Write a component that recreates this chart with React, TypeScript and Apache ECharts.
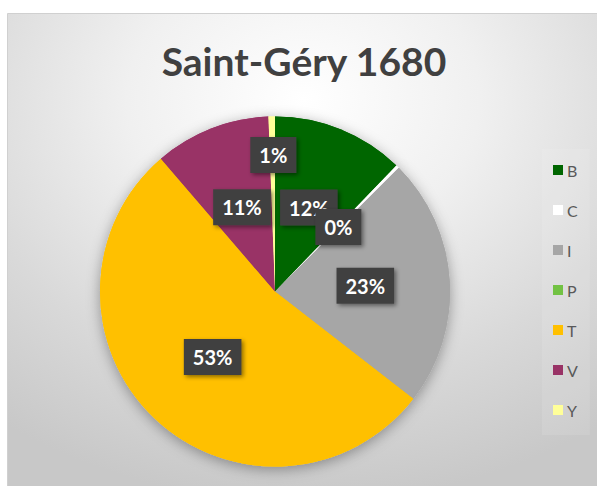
import React, { useEffect, useRef } from "react";
import * as echarts from "echarts";

const titleText = "Saint-Géry 1680";
const categories = ["B", "C", "I", "P", "T", "V", "Y"];
const shares = [12.2, 0.3, 23.0, 0, 53.2, 10.7, 0.6];
const colors = ["#006600", "#ffffff", "#a6a6a6", "#72c243", "#ffc000", "#993366", "#ffff99"];

export default function App() {
  const ref = useRef<HTMLDivElement>(null);
  useEffect(() => {
    if (!ref.current) return;
    const chart = echarts.init(ref.current, null, { renderer: "svg" });
    const dataMain = categories.map((name, i) => ({
      name,
      value: shares[i],
      itemStyle: { color: colors[i] },
      label: { show: shares[i] > 0 },
    }));
    const dataShadow = categories.map((name, i) => ({
      name,
      value: shares[i],
      itemStyle: { color: colors[i] },
    }));
    const font = "Lato, 'Open Sans', sans-serif";
    chart.setOption({
      animation: false,
      backgroundColor: "#ffffff",
      graphic: [
        {
          type: "rect",
          z: -10,
          shape: { x: 7.5, y: 13.5, width: 592, height: 475 },
          style: {
            fill: new echarts.graphic.RadialGradient(0.5, 0.18, 0.85, [
              { offset: 0, color: "#ffffff" },
              { offset: 0.35, color: "#f0f0f0" },
              { offset: 0.7, color: "#d9d9d9" },
              { offset: 1, color: "#c8c8c8" },
            ]),
            stroke: "#d0d0d0",
            lineWidth: 1,
          },
        },
        {
          type: "text",
          x: 304,
          y: 61,
          z: 10,
          style: {
            text: titleText,
            fill: "#404040",
            font: `bold 39px ${font}`,
            textAlign: "center",
            textVerticalAlign: "middle",
          },
        },
      ],
      legend: {
        orient: "vertical",
        left: 542,
        top: 149,
        padding: [13, 12, 17, 11],
        backgroundColor: "rgba(255,255,255,0.1)",
        itemWidth: 10,
        itemHeight: 10,
        itemGap: 24,
        icon: "rect",
        data: categories,
        textStyle: { color: "#595959", fontSize: 16, fontFamily: font, lineHeight: 16, padding: [0, 0, 0, -1] },
      },
      series: [
        {
          type: "pie",
          name: "shadow",
          silent: true,
          center: [275, 291.5],
          radius: 175,
          startAngle: 90,
          z: 1,
          label: { show: false },
          labelLine: { show: false },
          itemStyle: {
            shadowBlur: 14,
            shadowColor: "rgba(0,0,0,0.35)",
            shadowOffsetY: 3,
          },
          data: dataShadow,
        },
        {
          type: "pie",
          name: titleText,
          center: [275, 291.5],
          radius: 175,
          startAngle: 90,
          z: 2,
          avoidLabelOverlap: false,
          label: {
            position: "inside",
            formatter: (p: any) => Math.round(p.percent) + "%",
            color: "#ffffff",
            fontSize: 20,
            fontWeight: "bold",
            fontFamily: font,
            backgroundColor: "#404040",
            padding: [8, 9, 8, 9],
            shadowBlur: 4,
            shadowOffsetX: 2,
            shadowOffsetY: 2,
            shadowColor: "rgba(0,0,0,0.45)",
          },
          labelLine: { show: false },
          labelLayout: (params: any) => {
            if (params.dataIndex === 6) return { dy: -46 };
            return {};
          },
          data: dataMain,
        },
      ],
    });
    return () => chart.dispose();
  }, []);
  return <div ref={ref} style={{ position: "fixed", left: 0, top: 0, width: 597, height: 486 }} />;
}
